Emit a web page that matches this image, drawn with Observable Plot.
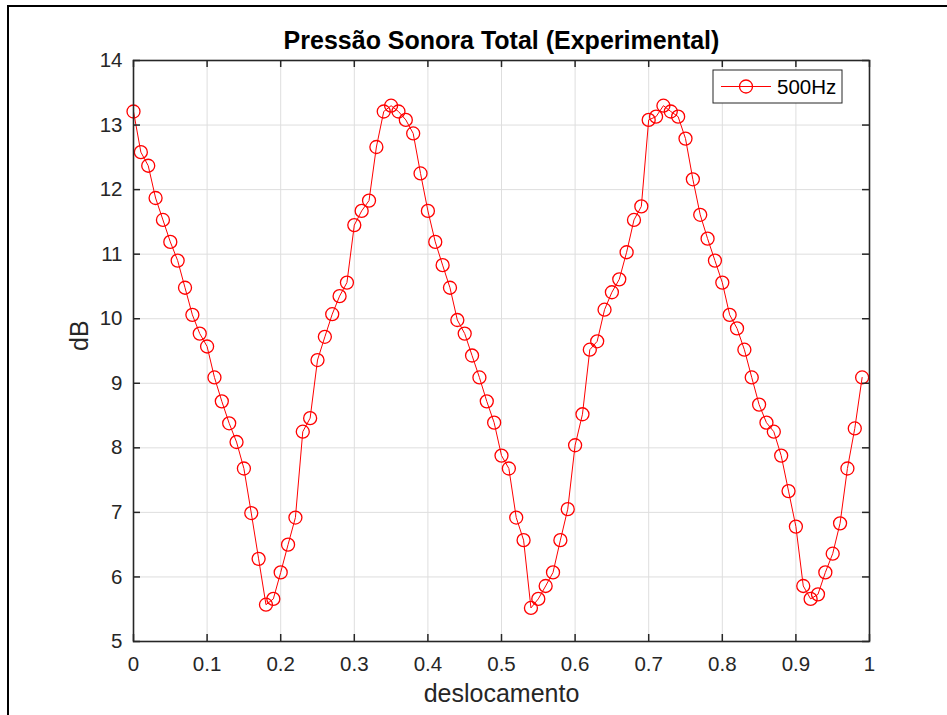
<!DOCTYPE html>
<html>
<head>
<meta charset="utf-8">
<script src="https://cdn.jsdelivr.net/npm/d3@7"></script>
<script src="https://cdn.jsdelivr.net/npm/@observablehq/plot@0.6"></script>
<style>
  html, body { margin: 0; padding: 0; background: #fff; overflow: hidden; }
  #wrap { position: relative; width: 947px; height: 715px; background: #fff; }
  #border { position: absolute; left: 7px; top: 5px; width: 1000px; height: 800px;
            border-left: 2px solid #000; border-top: 2px solid #000; pointer-events: none; }
  #legend { position: absolute; left: 0; top: 0; pointer-events: none; }
</style>
</head>
<body>
<div id="wrap"><div id="border"></div></div>
<script>
// ---- data ----
const deslocamento = [
  0.00,0.01,0.02,0.03,0.04,0.05,0.06,0.07,0.08,0.09,
  0.10,0.11,0.12,0.13,0.14,0.15,0.16,0.17,0.18,0.19,
  0.20,0.21,0.22,0.23,0.24,0.25,0.26,0.27,0.28,0.29,
  0.30,0.31,0.32,0.33,0.34,0.35,0.36,0.37,0.38,0.39,
  0.40,0.41,0.42,0.43,0.44,0.45,0.46,0.47,0.48,0.49,
  0.50,0.51,0.52,0.53,0.54,0.55,0.56,0.57,0.58,0.59,
  0.60,0.61,0.62,0.63,0.64,0.65,0.66,0.67,0.68,0.69,
  0.70,0.71,0.72,0.73,0.74,0.75,0.76,0.77,0.78,0.79,
  0.80,0.81,0.82,0.83,0.84,0.85,0.86,0.87,0.88,0.89,
  0.90,0.91,0.92,0.93,0.94,0.95,0.96,0.97,0.98,0.99
];
const dB500 = [
  13.21,12.58,12.37,11.87,11.53,11.19,10.90,10.48,10.06,9.77,
  9.57,9.09,8.72,8.38,8.09,7.68,6.99,6.28,5.57,5.66,
  6.07,6.50,6.92,8.25,8.46,9.36,9.72,10.07,10.35,10.56,
  11.45,11.67,11.83,12.66,13.21,13.30,13.21,13.08,12.87,12.25,
  11.67,11.19,10.83,10.48,9.98,9.77,9.43,9.09,8.72,8.39,
  7.88,7.68,6.92,6.57,5.52,5.66,5.86,6.07,6.57,7.05,
  8.04,8.52,9.52,9.65,10.14,10.41,10.61,11.03,11.53,11.74,
  13.08,13.13,13.30,13.21,13.13,12.79,12.16,11.61,11.24,10.90,
  10.56,10.06,9.85,9.52,9.09,8.67,8.39,8.25,7.88,7.33,
  6.78,5.86,5.66,5.73,6.07,6.36,6.83,7.68,8.30,9.09
];
const xTicks = [0,0.1,0.2,0.3,0.4,0.5,0.6,0.7,0.8,0.9,1];
const xTickLabels = ["0","0.1","0.2","0.3","0.4","0.5","0.6","0.7","0.8","0.9","1"];
const yTicks = [5,6,7,8,9,10,11,12,13,14];
const yTickLabels = ["5","6","7","8","9","10","11","12","13","14"];
const titleText = "Pressão Sonora Total (Experimental)";
const xLabel = "deslocamento";
const yLabel = "dB";
const seriesName = "500Hz";

const data = deslocamento.map((x, i) => ({x, y: dB500[i]}));

// ---- layout ----
const W = 947, H = 715;
const mL = 133, mR = 78, mT = 60, mB = 74;
const fw = W - mL - mR, fh = H - mT - mB;
const tk = 7;
const font = "'Liberation Sans', Arial, Helvetica, sans-serif";
const axisColor = "#262626";
const gridColor = "#dedede";

const chart = Plot.plot({
  width: W,
  height: H,
  marginLeft: mL, marginRight: mR, marginTop: mT, marginBottom: mB,
  style: {fontFamily: font, fontSize: "20.5px", color: axisColor, background: "white"},
  x: {domain: [0, 1], ticks: xTicks, tickFormat: (d) => xTickLabels[xTicks.indexOf(d)], tickSize: 0, tickPadding: 15, label: null},
  y: {domain: [5, 14], ticks: yTicks, tickFormat: (d) => yTickLabels[yTicks.indexOf(d)], tickSize: 0, tickPadding: 11, label: null},
  marks: [
    Plot.ruleX(xTicks, {x: (d) => d, stroke: gridColor, strokeWidth: 1}),
    Plot.ruleY(yTicks, {y: (d) => d, stroke: gridColor, strokeWidth: 1}),
    Plot.line(data, {x: "x", y: "y", stroke: "#ff0000", strokeWidth: 1}),
    Plot.dot(data, {x: "x", y: "y", r: 6.5, stroke: "#ff0000", strokeWidth: 1.3, fill: "none"}),
    // inward ticks
    Plot.ruleX(xTicks, {x: (d) => d, insetTop: fh - tk, stroke: axisColor, strokeWidth: 1.5}),
    Plot.ruleX(xTicks, {x: (d) => d, insetBottom: fh - tk, stroke: axisColor, strokeWidth: 1.5}),
    Plot.ruleY(yTicks, {y: (d) => d, insetRight: fw - tk, stroke: axisColor, strokeWidth: 1.5}),
    Plot.ruleY(yTicks, {y: (d) => d, insetLeft: fw - tk, stroke: axisColor, strokeWidth: 1.5}),
    Plot.frame({stroke: axisColor, strokeWidth: 1.6}),
    // title and axis labels
    Plot.text([titleText], {text: (d) => d, frameAnchor: "top", lineAnchor: "middle", dy: -20, fontSize: 25, fontWeight: "bold", fill: "#000", fontFamily: font}),
    Plot.text([xLabel], {text: (d) => d, frameAnchor: "bottom", lineAnchor: "middle", dy: 52, fontSize: 25, fill: axisColor, fontFamily: font}),
    Plot.text([yLabel], {text: (d) => d, frameAnchor: "left", lineAnchor: "middle", dx: -54, rotate: -90, fontSize: 25, fill: axisColor, fontFamily: font})
  ]
});
document.getElementById("wrap").insertBefore(chart, document.getElementById("border"));

// legend box (top-right inside the axes)
const ns = "http://www.w3.org/2000/svg";
const leg = document.createElementNS(ns, "svg");
leg.setAttribute("id", "legend");
leg.setAttribute("width", W);
leg.setAttribute("height", H);
const lx = 713, ly = 70, lw = 129, lh = 33;
leg.innerHTML = `
  <rect x="${lx}" y="${ly}" width="${lw}" height="${lh}" fill="white" stroke="${axisColor}" stroke-width="1"/>
  <line x1="${lx + 8}" x2="${lx + 58}" y1="${ly + lh / 2}" y2="${ly + lh / 2}" stroke="#ff0000" stroke-width="1"/>
  <circle cx="${lx + 33}" cy="${ly + lh / 2}" r="6.5" fill="none" stroke="#ff0000" stroke-width="1.3"/>
  <text x="${lx + 64}" y="${ly + lh / 2}" dy="0.35em" font-family="${font.replace(/'/g, "")}" font-size="20.5" fill="#000">${seriesName}</text>`;
document.getElementById("wrap").appendChild(leg);
</script>
</body>
</html>
